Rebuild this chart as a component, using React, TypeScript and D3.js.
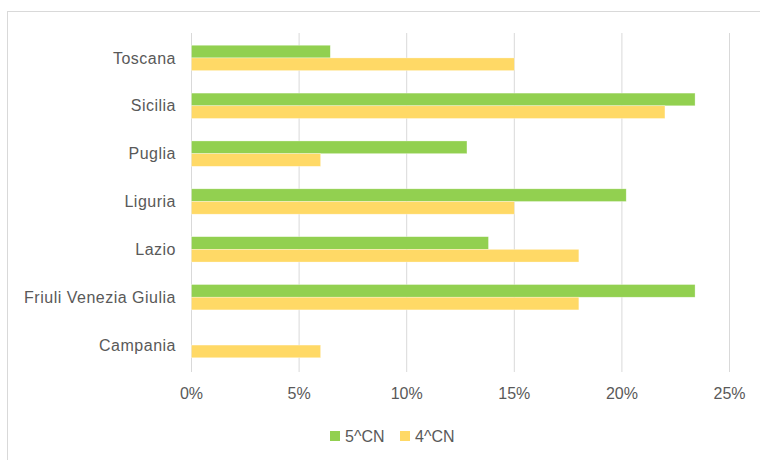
import React from "react";
import * as d3 from "d3";

// categories top to bottom
const regions = ["Toscana", "Sicilia", "Puglia", "Liguria", "Lazio", "Friuli Venezia Giulia", "Campania"];
const seriesNames = ["5^CN", "4^CN"];
const values5CN = [0.0645, 0.234, 0.128, 0.202, 0.138, 0.234, 0];
const values4CN = [0.15, 0.22, 0.06, 0.15, 0.18, 0.18, 0.06];
const xTicks = [0, 0.05, 0.1, 0.15, 0.2, 0.25];
const colors = ["#92D050", "#FFD966"];

const App = () => {
    const width = 760;
    const height = 460;
    const font = "'Liberation Sans', Arial, sans-serif";

    const x = d3.scaleLinear().domain([0, 0.25]).range([191.5, 729.5]);
    const y = d3.scaleBand().domain(regions).range([34, 369]).paddingInner(0.47).paddingOuter(0.235);
    const sub = d3.scaleBand().domain(seriesNames).range([0, y.bandwidth()]);
    const fmt = d3.format(".0%");
    const series = [values5CN, values4CN];

    return (
        <svg width={width} height={height} style={{ position: "absolute", left: 0, top: 0, background: "white" }}>
            {/* chart frame */}
            <rect x={7.5} y={11.5} width={800} height={500} fill="none" stroke="#d9d9d9" strokeWidth={1} />

            {/* gridlines */}
            {xTicks.map((t) => (
                <line key={t} x1={x(t)} x2={x(t)} y1={33} y2={372} stroke="#d9d9d9" strokeWidth={1} />
            ))}

            {/* bars */}
            {regions.map((r, i) => (
                <g key={r} transform={`translate(0,${y(r)})`}>
                    {series.map((vals, s) =>
                        vals[i] > 0 ? (
                            <rect
                                key={s}
                                x={x(0)}
                                y={sub(seriesNames[s])}
                                width={x(vals[i]) - x(0)}
                                height={sub.bandwidth()}
                                fill={colors[s]}
                                stroke="#ffffff"
                                strokeOpacity={0.5}
                                strokeWidth={0.6}
                            />
                        ) : null
                    )}
                </g>
            ))}

            {/* category labels */}
            {regions.map((r) => (
                <text key={r} x={176} y={(y(r) ?? 0) + y.bandwidth() / 2} dy="0.35em" textAnchor="end"
                    fontFamily={font} fontSize={16} letterSpacing={0.5} fill="#595959">
                    {r}
                </text>
            ))}

            {/* x tick labels */}
            {xTicks.map((t) => (
                <text key={t} x={x(t)} y={393} dy="0.35em" textAnchor="middle" fontFamily={font} fontSize={16} fill="#595959">
                    {fmt(t)}
                </text>
            ))}

            {/* legend */}
            {seriesNames.map((n, s) => (
                <g key={n} transform={`translate(${330 + s * 70},436)`}>
                    <rect x={0} y={-5} width={10} height={10} fill={colors[s]} />
                    <text x={15} y={0} dy="0.35em" fontFamily={font} fontSize={16} fill="#595959">{n}</text>
                </g>
            ))}
        </svg>
    );
};

export default App;
